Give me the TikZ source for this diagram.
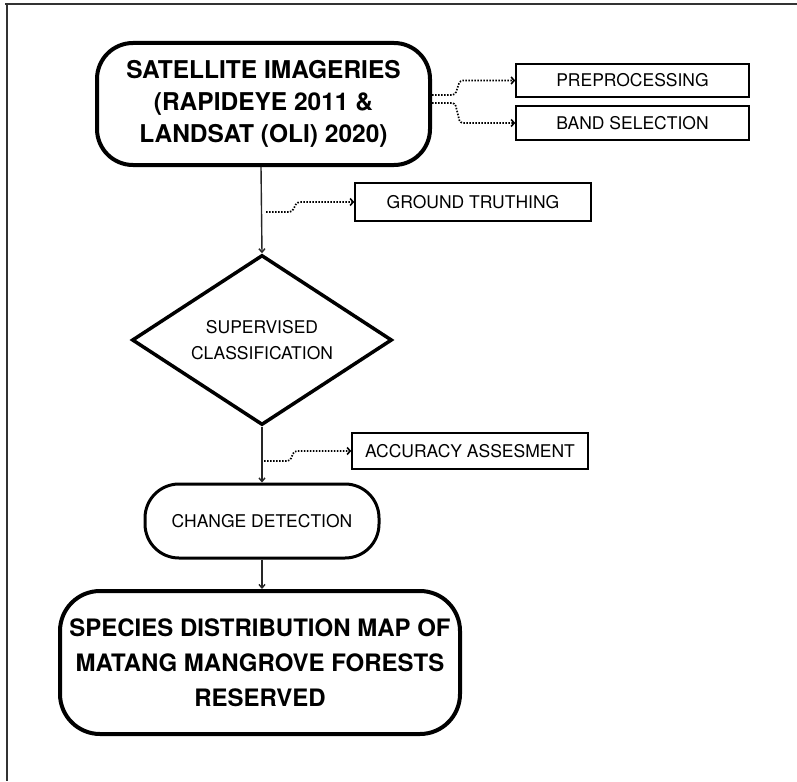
\documentclass[tikz,border=0pt]{standalone}
\usepackage{fontspec}
\setmainfont{TeX Gyre Heros}
\usetikzlibrary{arrows.meta,shapes.geometric}
\begin{document}
\begin{tikzpicture}[x=1pt,y=-1pt,
  bigbox/.style={draw=black,line width=4pt,rounded corners=36pt,align=center,inner sep=0pt,font=\fontsize{24.5}{32}\selectfont\bfseries},
  pill/.style={draw=black,line width=3pt,rounded corners=34pt,align=center,inner sep=0pt,font=\fontsize{17.5}{20}\selectfont},
  sidebox/.style={draw=black,line width=1.6pt,align=center,inner sep=0pt,font=\fontsize{17.5}{20}\selectfont},
  flow/.style={draw=black!85,line width=1.4pt,-{Straight Barb[length=3.5pt,width=6pt]}},
  dots/.style={draw=black,line width=1.7pt,dash pattern=on 1.5pt off 1.5pt,rounded corners=3pt,-{Straight Barb[length=3pt,width=7pt,line width=1.6pt]}}
]
\useasboundingbox (0,0) rectangle (797,781);
% frame
\draw[black!80,line width=2pt] (5,4.5) -- (797,4.5);
\draw[black!80,line width=1.5pt] (7,4) -- (7,781);

% nodes
\node[bigbox,minimum width=333pt,minimum height=122pt] (sat) at (263.5,104) {SATELLITE IMAGERIES\\(RAPIDEYE 2011 \&\\LANDSAT (OLI) 2020)};
\node[sidebox,minimum width=233pt,minimum height=33pt] (pre) at (632.5,80.5) {PREPROCESSING};
\node[sidebox,minimum width=233pt,minimum height=34pt] (band) at (632.5,123) {BAND SELECTION};
\node[sidebox,minimum width=236pt,minimum height=38pt] (gt) at (473,202) {GROUND TRUTHING};
\node[draw=black,line width=3.5pt,diamond,aspect=1.53,minimum width=260pt,minimum height=170pt,inner sep=0pt,align=center,font=\fontsize{17.5}{26}\selectfont] (sc) at (262,340) {SUPERVISED\\CLASSIFICATION};
\node[sidebox,minimum width=236pt,minimum height=36pt] (acc) at (470,451) {ACCURACY ASSESMENT};
\node[pill,minimum width=234pt,minimum height=74pt] (cd) at (262,521) {CHANGE DETECTION};
\node[bigbox,rounded corners=40pt,minimum width=400pt,minimum height=143pt,font=\fontsize{24}{35}\selectfont\bfseries] (sp) at (260,662.5) {SPECIES DISTRIBUTION MAP OF\\MATANG MANGROVE FORESTS\\RESERVED};

% main flow
\path[flow] (sat.south -| 261,0) -- (sc.north);
\path[flow] (sc.south) -- (cd.north);
\path[flow] (cd.south) -- (sp.north -| cd.south);

% dotted side connectors
\coordinate (s1) at (sat.east |- 0,95);
\coordinate (s2) at (sat.east |- 0,103);
\path[dots] (s1) -- (455,95) -- (460,80.5) -- (pre.west);
\path[dots] (s2) -- (455,103) -- (460,123) -- (band.west);
\coordinate (g0) at (266,212);
\path[dots] (g0) -- (292,212) -- (297,202) -- (gt.west);
\coordinate (a0) at (264,461);
\path[dots] (a0) -- (290,461) -- (294,451) -- (acc.west);
\end{tikzpicture}
\end{document}
